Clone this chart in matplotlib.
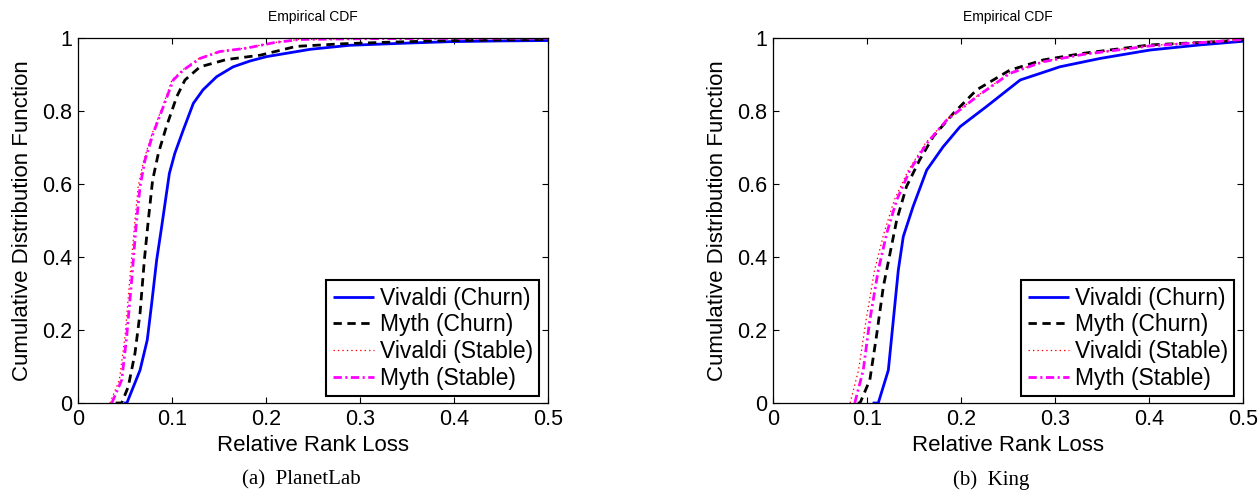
import matplotlib
matplotlib.use("Agg")
import matplotlib.pyplot as plt

plt.rcParams['font.family'] = ['Liberation Sans', 'DejaVu Sans']
plt.rcParams['lines.scale_dashes'] = False

# ---- data (x = relative rank loss, y = CDF) ----
labels = ["Vivaldi (Churn)", "Myth (Churn)", "Vivaldi (Stable)", "Myth (Stable)"]

# (a) PlanetLab
pl_viv_churn_x = [0.049, 0.052, 0.066, 0.0737, 0.0784, 0.0837, 0.089, 0.0972, 0.103, 0.112,
                  0.1227, 0.133, 0.1475, 0.165, 0.183, 0.2007, 0.247, 0.289, 0.35, 0.396, 0.45, 0.5]
pl_viv_churn_y = [0.0, 0.0, 0.09, 0.173, 0.273, 0.392, 0.483, 0.629, 0.684, 0.748,
                  0.821, 0.858, 0.894, 0.921, 0.937, 0.949, 0.969, 0.980, 0.986, 0.990, 0.992, 0.993]
pl_myth_churn_x = [0.040, 0.0465, 0.0535, 0.0606, 0.066, 0.0706, 0.0748, 0.0794, 0.0855, 0.094,
                   0.105, 0.1138, 0.1298, 0.158, 0.194, 0.232, 0.28, 0.324, 0.38, 0.431, 0.5]
pl_myth_churn_y = [0.0, 0.0, 0.045, 0.136, 0.246, 0.392, 0.501, 0.611, 0.684, 0.757,
                   0.839, 0.885, 0.921, 0.941, 0.953, 0.977, 0.984, 0.988, 0.992, 0.994, 0.996]
pl_viv_stable_x = [0.034, 0.044, 0.050, 0.055, 0.060, 0.064, 0.070, 0.079, 0.090, 0.100,
                   0.111, 0.129, 0.150, 0.178, 0.207, 0.235, 0.30, 0.40, 0.50]
pl_viv_stable_y = [0.0, 0.063, 0.182, 0.337, 0.483, 0.593, 0.666, 0.739, 0.812, 0.885,
                   0.912, 0.944, 0.963, 0.972, 0.987, 0.996, 0.998, 0.999, 1.0]
pl_myth_stable_x = [0.036, 0.0465, 0.0518, 0.0571, 0.0617, 0.066, 0.0713, 0.080, 0.0908, 0.1014,
                    0.112, 0.1298, 0.151, 0.179, 0.208, 0.236, 0.30, 0.40, 0.50]
pl_myth_stable_y = [0.0, 0.063, 0.182, 0.337, 0.483, 0.593, 0.666, 0.739, 0.812, 0.885,
                    0.912, 0.944, 0.963, 0.972, 0.987, 0.996, 0.998, 0.999, 1.0]

# (b) King
kg_viv_churn_x = [0.106, 0.112, 0.1227, 0.128, 0.1333, 0.1386, 0.149, 0.1635, 0.181, 0.199,
                  0.227, 0.263, 0.2947, 0.305, 0.348, 0.401, 0.454, 0.5]
kg_viv_churn_y = [0.0, 0.0, 0.09, 0.227, 0.364, 0.456, 0.538, 0.638, 0.702, 0.757,
                  0.812, 0.885, 0.912, 0.921, 0.944, 0.967, 0.981, 0.991]
kg_myth_churn_x = [0.090, 0.0926, 0.103, 0.110, 0.1174, 0.1245, 0.1316, 0.142, 0.156, 0.1705,
                   0.192, 0.2167, 0.252, 0.2876, 0.33, 0.401, 0.472, 0.5]
kg_myth_churn_y = [0.0, 0.0, 0.063, 0.182, 0.319, 0.41, 0.501, 0.593, 0.666, 0.73,
                   0.794, 0.858, 0.912, 0.940, 0.958, 0.981, 0.990, 0.995]
kg_viv_stable_x = [0.082, 0.091, 0.099, 0.108, 0.118, 0.129, 0.144, 0.162, 0.184, 0.216,
                   0.252, 0.2876, 0.33, 0.40, 0.47, 0.5]
kg_viv_stable_y = [0.0, 0.09, 0.227, 0.364, 0.465, 0.556, 0.638, 0.711, 0.775, 0.839,
                   0.905, 0.936, 0.956, 0.979, 0.991, 0.997]
kg_myth_stable_x = [0.087, 0.096, 0.103, 0.112, 0.121, 0.1316, 0.1457, 0.1635, 0.1848, 0.2167,
                    0.252, 0.2876, 0.33, 0.40, 0.47, 0.5]
kg_myth_stable_y = [0.0, 0.09, 0.227, 0.364, 0.465, 0.556, 0.638, 0.711, 0.775, 0.839,
                    0.903, 0.935, 0.955, 0.978, 0.990, 0.996]

x_ticks = [0, 0.1, 0.2, 0.3, 0.4, 0.5]
x_tick_labels = ["0", "0.1", "0.2", "0.3", "0.4", "0.5"]
y_ticks = [0, 0.2, 0.4, 0.6, 0.8, 1.0]
y_tick_labels = ["0", "0.2", "0.4", "0.6", "0.8", "1"]

panels = [
    ("(a)  PlanetLab", [(pl_viv_churn_x, pl_viv_churn_y), (pl_myth_churn_x, pl_myth_churn_y),
                        (pl_viv_stable_x, pl_viv_stable_y), (pl_myth_stable_x, pl_myth_stable_y)]),
    ("(b)  King", [(kg_viv_churn_x, kg_viv_churn_y), (kg_myth_churn_x, kg_myth_churn_y),
                   (kg_viv_stable_x, kg_viv_stable_y), (kg_myth_stable_x, kg_myth_stable_y)]),
]

styles = [
    dict(color="#0000ff", lw=2.0, linestyle="-"),
    dict(color="black", lw=2.0, linestyle=(0, (6.0, 4.0))),
    dict(color="#ff0000", lw=0.9, linestyle=(0, (1.0, 2.2))),
    dict(color="#ff00ff", lw=2.0, linestyle=(0, (6.0, 2.5, 1.5, 2.5))),
]

W, H = 1260, 493
fig = plt.figure(figsize=(W / 100, H / 100), dpi=100)

lefts = [78, 773]
caption_x = [301, 991]
for i, (caption, series) in enumerate(panels):
    ax = fig.add_axes([lefts[i] / W, (H - 403) / H, 470 / W, 365 / H])
    for (xs, ys), st, lab in zip(series, styles, labels):
        ax.plot(xs, ys, label=lab, solid_capstyle="butt", dash_capstyle="butt", **st)
    ax.set_xlim(0, 0.5)
    ax.set_ylim(0, 1)
    ax.set_xticks(x_ticks)
    ax.set_xticklabels(x_tick_labels)
    ax.set_yticks(y_ticks)
    ax.set_yticklabels(y_tick_labels)
    ax.tick_params(direction="in", top=True, right=True, length=4, width=0.8,
                   labelsize=15.5, pad=4)
    for sp in ax.spines.values():
        sp.set_linewidth(0.9)
    ax.set_xlabel("Relative Rank Loss", fontsize=16)
    ax.set_ylabel("Cumulative Distribution Function", fontsize=16)
    ax.xaxis.set_label_coords(0.5, -0.088)
    ax.yaxis.set_label_coords(-0.095, 0.5)
    leg = ax.legend(loc="lower right", bbox_to_anchor=(0.981, 0.019), borderaxespad=0,
                    fontsize=16.5, frameon=True, fancybox=False, framealpha=1,
                    edgecolor="black", labelspacing=0.16, borderpad=0.28,
                    handlelength=1.8, handletextpad=0.25)
    leg.get_frame().set_linewidth(1.5)
    fig.text((lefts[i] + 235) / W, 1 - 17 / H, "Empirical CDF", fontsize=10,
             ha="center", va="center")
    fig.text(caption_x[i] / W, 1 - 480 / H, caption, fontsize=15,
             family=["Liberation Serif", "DejaVu Serif"], ha="center", va="center")

fig.savefig("out.png", dpi=100)
